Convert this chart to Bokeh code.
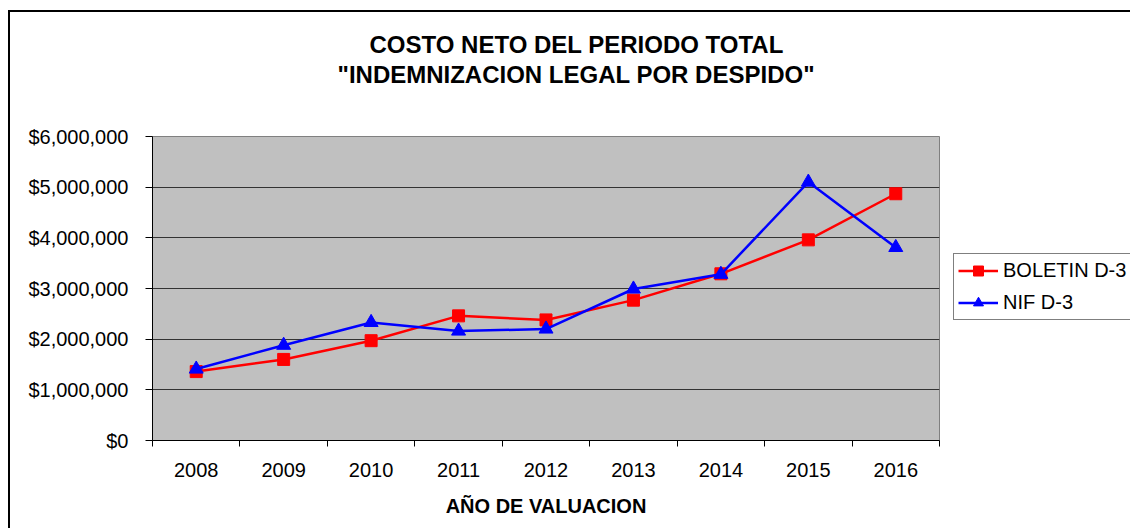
from bokeh.plotting import figure
from bokeh.models import (Legend, LegendItem, FixedTicker, NumeralTickFormatter,
                          Range1d, Title)
from bokeh.embed import file_html
from bokeh.resources import INLINE

# ---- data ----
years = [2008, 2009, 2010, 2011, 2012, 2013, 2014, 2015, 2016]
boletin_d3 = [1360000, 1600000, 1970000, 2460000, 2380000, 2770000, 3290000, 3960000, 4870000]
nif_d3 = [1410000, 1880000, 2330000, 2160000, 2200000, 2990000, 3280000, 5100000, 3810000]
y_ticks = [0, 1000000, 2000000, 3000000, 4000000, 5000000, 6000000]
series_names = ["BOLETIN D-3", "NIF D-3"]
title_lines = ["COSTO NETO DEL PERIODO TOTAL", '"INDEMNIZACION LEGAL POR DESPIDO"']
x_axis_label = "AÑO DE VALUACION"

FONT = "Liberation Sans"

p = figure(
    title=None,
    frame_width=787, frame_height=304,
    min_border_left=142, min_border_right=193, min_border_top=124, min_border_bottom=88,
    x_range=Range1d(years[0] - 0.5, years[-1] + 0.5),
    y_range=Range1d(y_ticks[0], y_ticks[-1]),
    output_backend="svg", toolbar_location=None,
    background_fill_color="#C0C0C0", border_fill_color="white",
    outline_line_color="#808080", outline_line_width=1,
)
p.styles = {"margin-left": "8px", "margin-top": "10px",
            "border-left": "2px solid #000", "border-top": "2px solid #000",
            "box-sizing": "border-box"}

# title: spacer + two single-line titles (first added sits closest to the frame)
p.add_layout(Title(text=" ", text_font=FONT, text_font_size="24px", standoff=19), "above")
p.add_layout(Title(text=title_lines[1], align="left", offset=185,
                   text_font=FONT, text_font_size="24px", text_font_style="bold",
                   text_color="black", standoff=2), "above")
p.add_layout(Title(text=title_lines[0], align="left", offset=217,
                   text_font=FONT, text_font_size="24px", text_font_style="bold",
                   text_color="black", standoff=0), "above")

# lines + markers
r_line = p.line(years, boletin_d3, line_color="#FF0000", line_width=2.5)
r_mark = p.scatter(years, boletin_d3, marker="square", size=12,
                   fill_color="#FF0000", line_color="#FF0000")
b_line = p.line(years, nif_d3, line_color="#0000FF", line_width=2.5)
b_mark = p.scatter(years, nif_d3, marker="triangle", size=14,
                   fill_color="#0000FF", line_color="#0000FF")

# x axis: labels at category centres, ticks at category boundaries
xa = p.xaxis[0]
xa.ticker = FixedTicker(ticks=years,
                        minor_ticks=[y - 0.5 for y in years] + [years[-1] + 0.5])
xa.major_label_overrides = {y: str(y) for y in years}
xa.major_tick_out = 0
xa.major_tick_in = 0
xa.minor_tick_out = 6
xa.minor_tick_in = 0
xa.minor_tick_line_color = "black"
xa.axis_line_color = "black"
xa.major_label_text_font = FONT
xa.major_label_text_font_size = "20px"
xa.major_label_text_color = "black"
xa.major_label_standoff = 16
xa.axis_label = x_axis_label
xa.axis_label_text_font = FONT
xa.axis_label_text_font_size = "20px"
xa.axis_label_text_font_style = "bold"
xa.axis_label_text_color = "black"
xa.axis_label_standoff = 15

ya = p.yaxis[0]
ya.ticker = FixedTicker(ticks=y_ticks, minor_ticks=[])
ya.formatter = NumeralTickFormatter(format="$0,0")
ya.major_tick_out = 7
ya.major_tick_in = 0
ya.major_tick_line_color = "black"
ya.axis_line_color = "black"
ya.major_label_text_font = FONT
ya.major_label_text_font_size = "20px"
ya.major_label_text_color = "black"
ya.major_label_standoff = 17

p.xgrid.grid_line_color = None
p.ygrid.grid_line_color = "#333333"
p.ygrid.grid_line_width = 1

legend = Legend(
    items=[LegendItem(label=series_names[0], renderers=[r_line, r_mark]),
           LegendItem(label=series_names[1], renderers=[b_line, b_mark])],
    location=(14, 120), margin=0, padding=4, spacing=7,
    glyph_width=40, glyph_height=25, label_height=25, label_standoff=5,
    label_text_font=FONT, label_text_font_size="20px", label_text_color="black",
    border_line_color="black", border_line_width=1,
    background_fill_color="white", background_fill_alpha=1,
)
p.add_layout(legend, "right")

open("out.html", "w").write(file_html(p, INLINE))
